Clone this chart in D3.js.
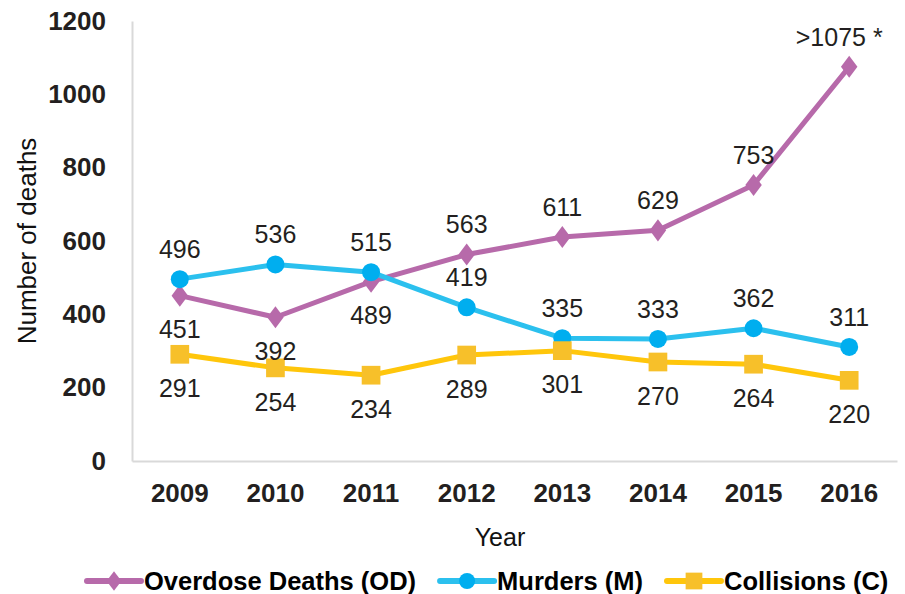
<!DOCTYPE html>
<html>
<head>
<meta charset="utf-8">
<script src="https://cdn.jsdelivr.net/npm/d3@7"></script>
<style>
  html, body { margin: 0; padding: 0; background: #fff; }
  svg { display: block; font-family: "Liberation Sans", Arial, Helvetica, sans-serif; }
</style>
</head>
<body>
<svg id="chart" width="905" height="594"></svg>
<script>
// data
const years = ['2009', '2010', '2011', '2012', '2013', '2014', '2015', '2016'];
const overdose = [451, 392, 489, 563, 611, 629, 753, 1075];
const murders = [496, 536, 515, 419, 335, 333, 362, 311];
const collisions = [291, 254, 234, 289, 301, 270, 264, 220];
const yTicks = [0, 200, 400, 600, 800, 1000, 1200];

// label text + whether it sits above or below the point
const overdoseLabels = ['451', '392', '489', '563', '611', '629', '753', '>1075 *'];
const overdoseSide = ['below', 'below', 'below', 'above', 'above', 'above', 'above', 'above'];

const series = [
  { name: 'Overdose Deaths (OD)', values: overdose, labels: overdoseLabels, side: overdoseSide,
    line: '#b76aaa', fill: '#b76aaa', symbol: d3.symbolDiamond, size: 140, sx: 1.3 },
  { name: 'Murders (M)', values: murders, labels: murders.map(String), side: murders.map(() => 'above'),
    line: '#2bc0ee', fill: '#00aeef', symbol: d3.symbolCircle, size: 254, sx: 1 },
  { name: 'Collisions (C)', values: collisions, labels: collisions.map(String), side: collisions.map(() => 'below'),
    line: '#ffc60b', fill: '#f7c02a', symbol: d3.symbolSquare, size: 350, sx: 1 }
];

const svg = d3.select('#chart');
const width = 905;
const height = 594;
const margin = { top: 21, right: 8, bottom: 133, left: 132 };

const x = d3.scaleBand().domain(years).range([margin.left, width - margin.right]).padding(0);
const y = d3.scaleLinear().domain([0, 1200]).range([height - margin.bottom, margin.top]);
const cx = d => x(d) + x.bandwidth() / 2;

// axes
const yAxis = svg.append('g')
  .attr('transform', `translate(${margin.left},0)`)
  .call(d3.axisLeft(y).tickValues(yTicks).tickFormat(d3.format('d')).tickSize(0).tickPadding(26));
const xAxis = svg.append('g')
  .attr('transform', `translate(0,${height - margin.bottom})`)
  .call(d3.axisBottom(x).tickSize(0).tickPadding(23));

[yAxis, xAxis].forEach(g => {
  g.select('.domain').attr('stroke', '#d9d9d9').attr('stroke-width', 2);
  g.selectAll('text')
    .attr('font-family', '"Liberation Sans", Arial, sans-serif')
    .attr('font-size', 26)
    .attr('font-weight', 'bold')
    .attr('fill', '#231f20');
});

// axis titles
svg.append('text')
  .attr('transform', `translate(36,${(margin.top + height - margin.bottom) / 2}) rotate(-90)`)
  .attr('text-anchor', 'middle')
  .attr('font-size', 26)
  .attr('fill', '#111')
  .text('Number of deaths');

svg.append('text')
  .attr('x', 500)
  .attr('y', 546)
  .attr('text-anchor', 'middle')
  .attr('font-size', 25)
  .attr('fill', '#111')
  .text('Year');

// lines + markers
const line = d3.line().x((d, i) => cx(years[i])).y(d => y(d));

series.forEach(s => {
  svg.append('path')
    .datum(s.values)
    .attr('fill', 'none')
    .attr('stroke', s.line)
    .attr('stroke-width', 5)
    .attr('stroke-linejoin', 'round')
    .attr('d', line);

  svg.selectAll(null)
    .data(s.values)
    .enter()
    .append('path')
    .attr('transform', (d, i) => `translate(${cx(years[i])},${y(d)}) scale(${s.sx},1)`)
    .attr('d', d3.symbol().type(s.symbol).size(s.size))
    .attr('fill', s.fill);
});

// data labels
series.forEach(s => {
  svg.selectAll(null)
    .data(s.values)
    .enter()
    .append('text')
    .attr('x', (d, i) => cx(years[i]))
    .attr('dx', (d, i) => s.labels[i].length > 4 ? -10 : 0)
    .attr('y', (d, i) => y(d) + (s.side[i] === 'above' ? -30 : 34))
    .attr('dy', '0.35em')
    .attr('text-anchor', 'middle')
    .attr('font-size', 25)
    .attr('fill', '#231f20')
    .text((d, i) => s.labels[i]);
});

// legend
const legend = svg.append('g').attr('transform', 'translate(87,581)');
let lx = 0;
series.forEach(s => {
  const item = legend.append('g').attr('transform', `translate(${lx},0)`);
  item.append('line')
    .attr('x1', 0).attr('x2', 54)
    .attr('stroke', s.line)
    .attr('stroke-width', 6)
    .attr('stroke-linecap', 'round');
  item.append('path')
    .attr('transform', `translate(27,0) scale(${s.sx},1)`)
    .attr('d', d3.symbol().type(s.symbol).size(s.size * 0.8))
    .attr('fill', s.fill);
  const t = item.append('text')
    .attr('x', 57)
    .attr('dy', '0.36em')
    .attr('font-size', 25.5)
    .attr('font-weight', 'bold')
    .attr('fill', '#000')
    .text(s.name);
  lx += 57 + t.node().getComputedTextLength() + 24;
});
</script>
</body>
</html>
